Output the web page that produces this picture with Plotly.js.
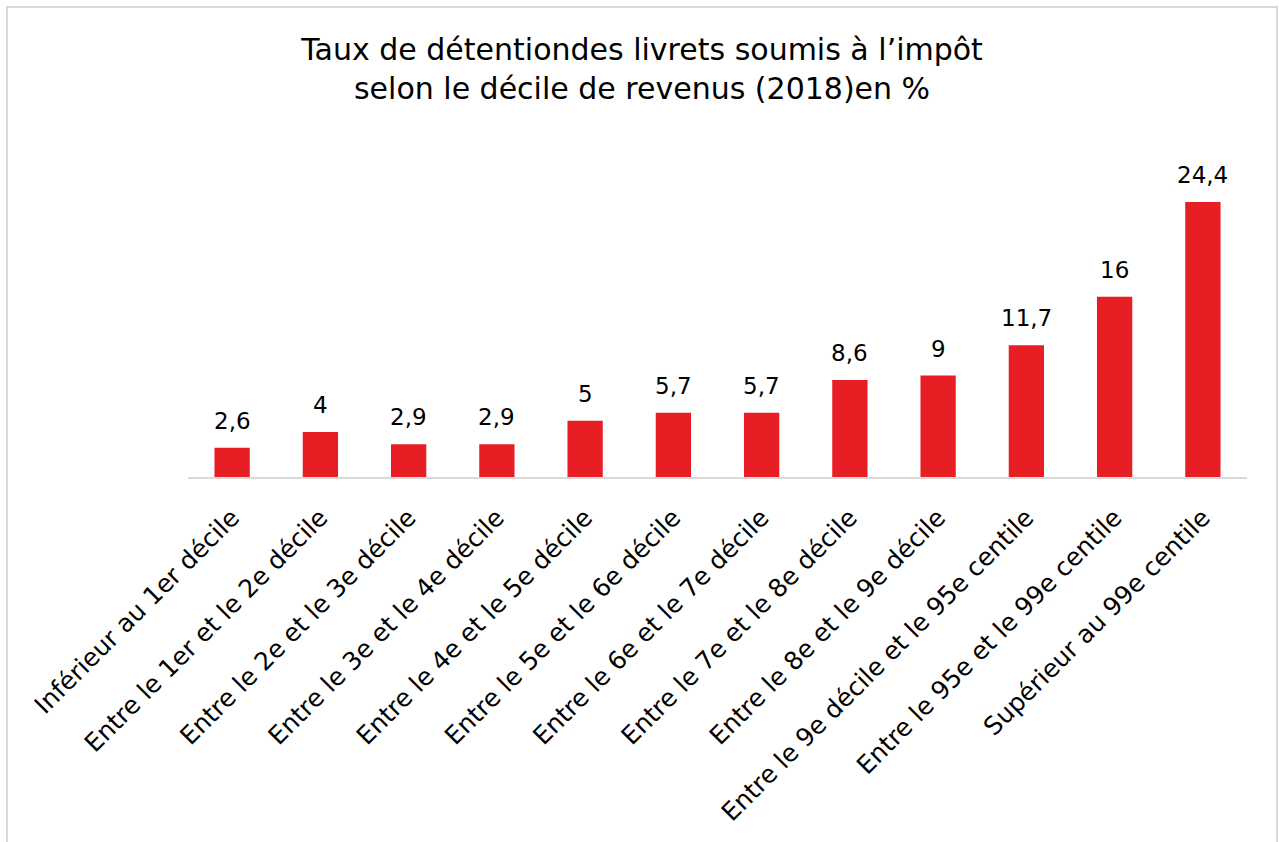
<!DOCTYPE html>
<html>
<head>
<meta charset="utf-8">
<script src="https://cdn.plot.ly/plotly-3.0.1.min.js"></script>
<style>
html,body{margin:0;padding:0;background:#fff;}
#wrap{position:relative;width:1279px;height:842px;overflow:hidden;}
#chart{position:absolute;left:0;top:0;width:1279px;height:842px;}
#frame{position:absolute;left:6px;top:6px;width:1268px;height:900px;border:2px solid #d9d9d9;pointer-events:none;}
</style>
</head>
<body>
<div id="wrap"><div id="chart"></div><div id="frame"></div></div>
<script>
const categories = [
  "Inférieur au 1er décile",
  "Entre le 1er et le 2e décile",
  "Entre le 2e et le 3e décile",
  "Entre le 3e et le 4e décile",
  "Entre le 4e et le 5e décile",
  "Entre le 5e et le 6e décile",
  "Entre le 6e et le 7e décile",
  "Entre le 7e et le 8e décile",
  "Entre le 8e et le 9e décile",
  "Entre le 9e décile et le 95e centile",
  "Entre le 95e et le 99e centile",
  "Supérieur au 99e centile"
];
const values = [2.6, 4, 2.9, 2.9, 5, 5.7, 5.7, 8.6, 9, 11.7, 16, 24.4];
const labels = values.map(v => String(v).replace('.', ','));

const fontFam = "'Century Gothic', 'DejaVu Sans', sans-serif";

const trace = {
  type: 'bar',
  x: categories,
  y: values,
  marker: {color: '#E81E25'},
  hoverinfo: 'skip'
};

const annotations = categories.map((c, i) => ({
  x: c, y: values[i], xref: 'x', yref: 'y',
  text: labels[i], showarrow: false,
  xanchor: 'center', yanchor: 'bottom', yshift: 12,
  font: {family: fontFam, size: 23, color: '#000'}
}));

const layout = {
  width: 1279,
  height: 842,
  margin: {l: 188, r: 32, t: 139, b: 365, autoexpand: false},
  paper_bgcolor: 'rgba(0,0,0,0)',
  plot_bgcolor: 'rgba(0,0,0,0)',
  bargap: 0.6,
  showlegend: false,
  annotations: annotations,
  title: {
    text: "Taux de détentiondes livrets soumis à l’impôt<br>selon le décile de revenus (2018)en %",
    font: {family: fontFam, size: 30, color: '#000'},
    xref: 'container', x: 0.502, xanchor: 'center',
    yref: 'container', y: 0.929, yanchor: 'middle'
  },
  xaxis: {
    type: 'category',
    tickangle: -45,
    tickfont: {family: fontFam, size: 25, color: '#000'},
    showline: true, linecolor: '#d9d9d9', linewidth: 2,
    ticks: 'outside', ticklen: 14, tickcolor: 'rgba(0,0,0,0)',
    showgrid: false, zeroline: false, automargin: false, fixedrange: true
  },
  yaxis: {
    range: [0, 30],
    visible: false, showgrid: false, zeroline: false, fixedrange: true
  }
};

Plotly.newPlot('chart', [trace], layout, {displayModeBar: false, staticPlot: true});
</script>
</body>
</html>
